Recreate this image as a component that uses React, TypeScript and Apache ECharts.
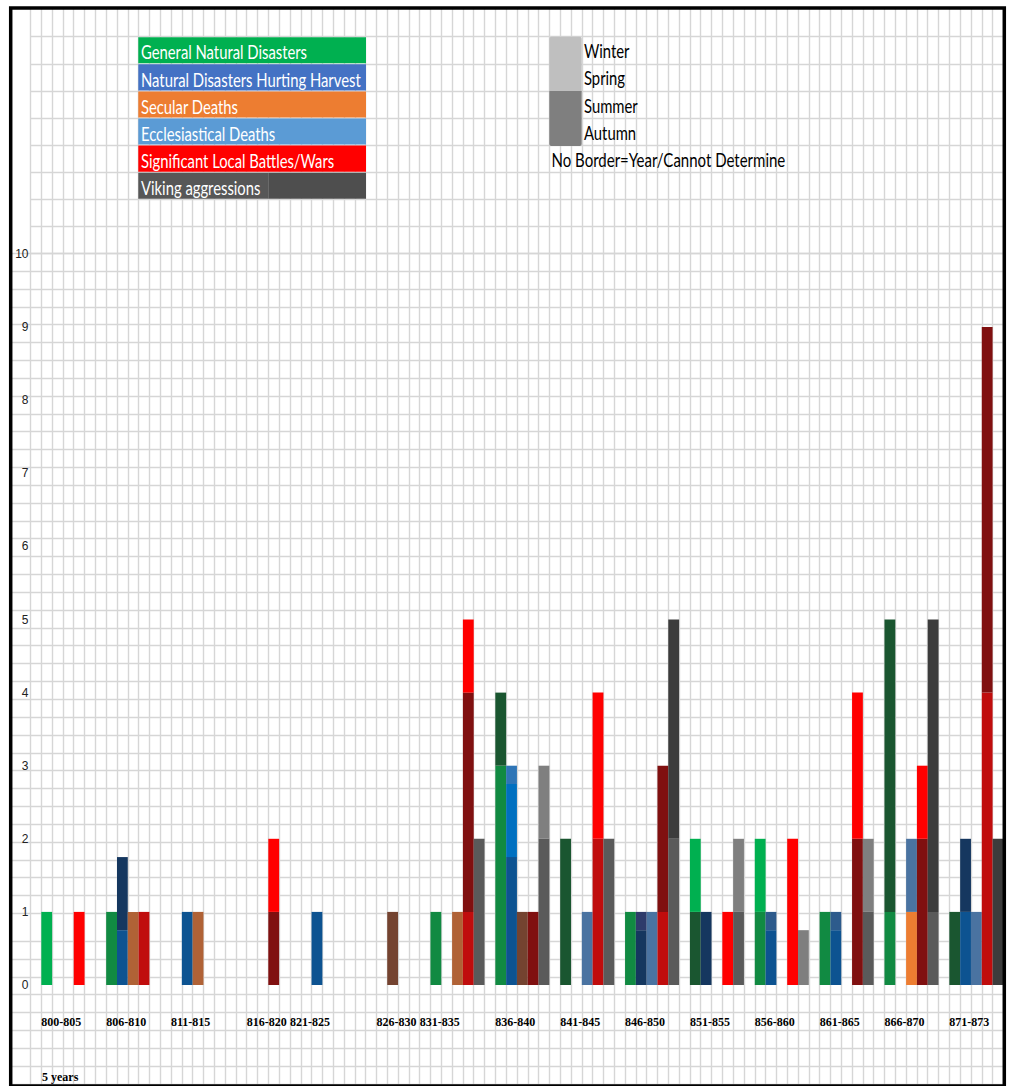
import React, { useEffect, useRef } from "react";
import * as echarts from "echarts";

// ---------- data ----------
const COLS = 90; // one category slot per spreadsheet column
const periodLabels = ["800-805", "806-810", "811-815", "816-820", "821-825", "826-830", "831-835", "836-840", "841-845", "846-850", "851-855", "856-860", "861-865", "866-870", "871-873"];
const periodStartCol = [1, 7, 13, 20, 24, 32, 36, 43, 49, 55, 61, 67, 73, 79, 85];
const axisNote = "5 years";

const legendCategories = ["General Natural Disasters", "Natural Disasters Hurting Harvest", "Secular Deaths", "Ecclesiastical Deaths", "Significant Local Battles/Wars", "Viking aggressions"];
const legendColors = ["#00b050", "#4472c4", "#ed7d31", "#5b9bd5", "#ff0000", "#555555"];
const seasonLabels = ["Winter", "Spring", "Summer", "Autumn"];
const seasonNote = "No Border=Year/Cannot Determine";

// segments: [column, height], stacked in the order of the series list
const medGreen = [[7, 1], [37, 1], [43, 3], [55, 1], [67, 1], [73, 1], [79, 1]];
const darkGreen = [[43, 1], [49, 2], [61, 1], [79, 4], [85, 1]];
const brightGreen = [[1, 1], [61, 1], [67, 1]];
const blue = [[8, 0.75], [14, 1], [26, 1], [44, 1.75], [68, 0.75], [74, 0.75], [86, 1]];
const navy = [[8, 1], [56, 0.75], [62, 1], [86, 1]];
const purpleNavy = [[56, 0.25]];
const slateBlue = [[68, 0.25], [74, 0.25]];
const brightBlue = [[44, 1]];
const lightBlue = [[44, 0.25]];
const orange = [[81, 1]];
const steel = [[51, 1], [57, 1], [81, 1], [87, 1]];
const brownOrange = [[9, 1], [15, 1], [39, 1]];
const brown = [[33, 1], [45, 1]];
const red = [[10, 1], [40, 1], [52, 2], [58, 1], [88, 4]];
const darkRed = [[22, 1], [40, 3], [46, 1], [58, 2], [76, 2], [82, 2], [88, 5]];
const brightRed = [[4, 1], [22, 1], [40, 1], [52, 2], [64, 1], [70, 2], [76, 2], [82, 1]];
const darkGray = [[41, 2], [47, 2], [53, 2], [59, 2], [65, 1], [77, 1], [83, 1]];
const gray = [[47, 1], [65, 1], [71, 0.75], [77, 1]];
const darkerGray = [[59, 3], [83, 4], [89, 2]];

const seriesDefs = [
  { name: "medGreen", color: "#118a42", points: medGreen },
  { name: "darkGreen", color: "#1a5630", points: darkGreen },
  { name: "brightGreen", color: "#00b050", points: brightGreen },
  { name: "blue", color: "#0d5391", points: blue },
  { name: "navy", color: "#15375f", points: navy },
  { name: "purpleNavy", color: "#2e3b6b", points: purpleNavy },
  { name: "slateBlue", color: "#2d5b8c", points: slateBlue },
  { name: "brightBlue", color: "#0070c0", points: brightBlue },
  { name: "lightBlue", color: "#2e75b6", points: lightBlue },
  { name: "orange", color: "#ed7d31", points: orange },
  { name: "steel", color: "#4a73a1", points: steel },
  { name: "brownOrange", color: "#b06236", points: brownOrange },
  { name: "brown", color: "#744330", points: brown },
  { name: "red", color: "#c00d0d", points: red },
  { name: "darkRed", color: "#801010", points: darkRed },
  { name: "brightRed", color: "#ff0000", points: brightRed },
  { name: "darkGray", color: "#5a5a5a", points: darkGray },
  { name: "gray", color: "#7f7f7f", points: gray },
  { name: "darkerGray", color: "#3c3c3c", points: darkerGray },
];

// ---------- layout ----------
const W = 1012;
const H = 1086;
const GL = 30.5; // left of column grid
const GW = 972.9; // 90 columns
const LINE = { color: "#d6d6d6", width: 1.4 };
const LEG_FONT = "19px Lato, 'Open Sans', sans-serif";

function hiddenAxis(gridIndex: number, extra: any = {}) {
  return { type: "value", gridIndex, show: false, min: 0, max: 1, ...extra };
}
function lineAxis(gridIndex: number, max: number) {
  return {
    type: "value", gridIndex, min: 0, max, interval: 1,
    axisLine: { show: false }, axisTick: { show: false }, axisLabel: { show: false },
    splitLine: { show: true, lineStyle: LINE },
  };
}

export default function App() {
  const ref = useRef<HTMLDivElement>(null);
  useEffect(() => {
    if (!ref.current) return;
    const chart = echarts.init(ref.current, null, { renderer: "svg" });
    const categories = Array.from({ length: COLS }, (_, i) => String(i));

    const series = seriesDefs.map((d) => {
      const data: (number | null)[] = new Array(COLS).fill(null);
      d.points.forEach(([c, v]) => { data[c] = v; });
      return {
        type: "bar", name: d.name, stack: "all", xAxisIndex: 0, yAxisIndex: 0,
        barCategoryGap: "0%", data, itemStyle: { color: d.color }, silent: true,
      };
    });

    const gridBase = { containLabel: false, outerBoundsMode: "none" };
    const graphics: any[] = [];
    // category legend
    const rowH = 27.1;
    legendCategories.forEach((t, i) => {
      const y0 = 36.7 + i * rowH;
      if (i === legendCategories.length - 1) {
        graphics.push({ type: "rect", z: 100, shape: { x: 138.3, y: y0 + 0.5, width: 130, height: rowH - 1 }, style: { fill: "#575757" } });
        graphics.push({ type: "rect", z: 100, shape: { x: 268.3, y: y0 + 0.5, width: 97.7, height: rowH - 1 }, style: { fill: "#4e4e4e" } });
      } else {
        graphics.push({ type: "rect", z: 100, shape: { x: 138.3, y: y0 + 0.5, width: 227.7, height: rowH - 1 }, style: { fill: legendColors[i] } });
      }
      graphics.push({
        type: "text", z: 101, x: 141, y: y0 + rowH / 2 + 2, scaleX: 0.78,
        style: { text: t, fill: "#ffffff", font: LEG_FONT, verticalAlign: "middle", align: "left" },
      });
    });
    // season legend
    graphics.push({ type: "rect", z: 100, shape: { x: 549.3, y: 36.7, width: 32.4, height: 54.3, r: [2, 2, 0, 0] }, style: { fill: "#bfbfbf" } });
    graphics.push({ type: "rect", z: 100, shape: { x: 549.3, y: 91, width: 32.4, height: 55, r: [0, 0, 2, 2] }, style: { fill: "#7f7f7f" } });
    seasonLabels.forEach((t, i) => {
      graphics.push({
        type: "text", z: 101, x: 584, y: 51 + i * 27.2, scaleX: 0.78,
        style: { text: t, fill: "#000", font: LEG_FONT, verticalAlign: "middle", align: "left" },
      });
    });
    graphics.push({
      type: "text", z: 101, x: 551.5, y: 160, scaleX: 0.79,
      style: { text: seasonNote, fill: "#000", font: LEG_FONT, verticalAlign: "middle", align: "left" },
    });
    graphics.push({
      type: "text", z: 101, x: 42, y: 1077,
      style: { text: axisNote, fill: "#000", font: "bold 12px 'Liberation Serif', 'Times New Roman', serif", verticalAlign: "middle", align: "left" },
    });
    // outer frame
    graphics.push({ type: "rect", z: 120, shape: { x: 10.7, y: 7.9, width: 993.6, height: 1078 }, style: { fill: "none", stroke: "#000", lineWidth: 3.5 } });

    chart.setOption({
      animation: false,
      backgroundColor: "#ffffff",
      grid: [
        { ...gridBase, left: GL, top: 254, width: GW, height: 731 }, // bars
        { ...gridBase, left: GL, top: 8, width: GW, height: 1078 }, // vertical cell lines
        { ...gridBase, left: 12, top: 253.3, width: 991.4, height: 660 }, // body rows
        { ...gridBase, left: 12, top: 941, width: 991.4, height: 143 }, // bottom rows
        { ...gridBase, left: GL, top: 36.7, width: GW, height: 216.6 }, // top rows
      ],
      xAxis: [
        {
          type: "category", gridIndex: 0, data: categories, boundaryGap: true,
          axisLine: { show: false }, axisTick: { show: false }, axisLabel: { show: false }, splitLine: { show: false },
        },
        {
          type: "value", gridIndex: 0, position: "bottom", min: 0, max: COLS, interval: 1,
          axisLine: { show: false }, axisTick: { show: false }, splitLine: { show: false },
          axisLabel: {
            show: true, align: "left", margin: 31,
            fontFamily: "'Liberation Serif', 'Times New Roman', serif", fontWeight: "bold", fontSize: 12, color: "#000",
            formatter: (v: number) => {
              const i = periodStartCol.indexOf(Math.round(v));
              return i >= 0 ? periodLabels[i] : "";
            },
          },
        },
        {
          type: "value", gridIndex: 1, min: 0, max: COLS, interval: 1,
          axisLine: { show: false }, axisTick: { show: false }, axisLabel: { show: false },
          splitLine: { show: true, lineStyle: LINE },
        },
        hiddenAxis(2),
        hiddenAxis(3),
        hiddenAxis(4),
      ],
      yAxis: [
        {
          type: "value", gridIndex: 0, min: 0, max: 10, interval: 1,
          axisLine: { show: false }, axisTick: { show: false }, splitLine: { show: false },
          axisLabel: { margin: 2, fontSize: 12, color: "#222", fontFamily: "'Liberation Sans', Arial, sans-serif" },
        },
        hiddenAxis(1),
        lineAxis(2, 37),
        lineAxis(3, 8),
        lineAxis(4, 8),
      ],
      series,
      graphic: graphics,
    });
    return () => chart.dispose();
  }, []);
  return <div ref={ref} style={{ position: "fixed", left: 0, top: 0, width: W, height: H, background: "#fff" }} />;
}
